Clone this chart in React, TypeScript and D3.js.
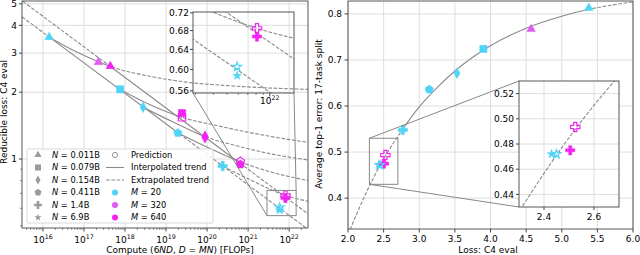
import React from 'react';
import * as d3 from 'd3';

// ---------- data ----------
const N_LABELS = ['0.011B', '0.079B', '0.154B', '0.411B', '1.4B', '6.9B'];
const N_SHAPES = ['triangle', 'square', 'diamond', 'pentagon', 'plus', 'star'];
const M_LABELS = ['20', '320', '640'];
const M_COLORS = ['#4fd3f6', '#dc5cef', '#f323f3'];

// left panel, measured runs: [N index, M index, compute (FLOPs), reducible loss]
const computeMeasured: number[][] = [
  [0, 0, 1.41e16, 3.54],
  [0, 1, 2.24e17, 2.73],
  [0, 2, 4.37e17, 2.62],
  [1, 0, 7.59e17, 2.06],
  [1, 2, 2.45e19, 1.61],
  [2, 0, 2.75e18, 1.71],
  [2, 2, 8.91e19, 1.265],
  [3, 0, 1.95e19, 1.31],
  [3, 2, 6.46e20, 0.945],
  [4, 0, 2.40e20, 0.93],
  [4, 2, 8.13e21, 0.667],
  [5, 0, 5.89e21, 0.588],
];
// left panel, predictions (hollow)
const computePredicted: number[][] = [
  [1, 2, 2.45e19, 1.54],
  [2, 2, 8.91e19, 1.255],
  [3, 2, 6.46e20, 0.975],
  [4, 2, 8.13e21, 0.685],
  [5, 0, 5.89e21, 0.605],
];

// left panel trends: points (compute, loss) and interpolated range
const trendM20 = [[3.09e15, 4.37], [2.88e22, 0.482]];
const trendM20Solid = [1.41e16, 1.95e19];
const trendM640 = [[3.24e15, 5.13], [2.88e22, 0.566]];
const trendM640Solid = [4.37e17, 6.46e20];
const trendN011 = [[1.41e16, 3.54], [5.62e16, 3.08], [2.24e17, 2.74], [4.37e17, 2.61], [3.98e18, 2.36],
  [3.16e19, 2.22], [3.16e20, 2.14], [3.16e21, 2.09], [2.88e22, 2.06]];
const trendN011Solid = [1.41e16, 4.37e17];
const trendN079 = [[7.59e17, 2.06], [3.98e18, 1.76], [2.45e19, 1.54], [1.58e20, 1.42], [1.0e21, 1.32],
  [5.01e21, 1.25], [2.88e22, 1.19]];
const trendN079Solid = [7.59e17, 2.45e19];
const trendN154 = [[2.75e18, 1.71], [1.58e19, 1.46], [8.91e19, 1.26], [5.01e20, 1.15], [3.16e21, 1.06],
  [2.88e22, 0.99]];
const trendN154Solid = [2.75e18, 8.91e19];
const trendN411 = [[1.95e19, 1.31], [1.12e20, 1.12], [6.46e20, 0.97], [3.98e21, 0.87], [2.88e22, 0.80]];
const trendN411Solid = [1.95e19, 6.46e20];
const trendN14 = [[2.40e20, 0.93], [1.41e21, 0.79], [8.13e21, 0.685], [2.88e22, 0.645]];

// right panel, measured: [N index, M index, C4 eval loss, avg top-1 error]
const lossMeasured: number[][] = [
  [0, 0, 5.38, 0.813],
  [0, 1, 4.57, 0.767],
  [1, 0, 3.9, 0.724],
  [2, 0, 3.53, 0.671],
  [3, 0, 3.14, 0.636],
  [4, 0, 2.77, 0.548],
  [5, 0, 2.43, 0.472],
  [4, 2, 2.505, 0.475],
];
const lossPredicted: number[][] = [
  [5, 0, 2.45, 0.472],
  [4, 2, 2.525, 0.4935],
];
// right panel fitted trend
const fitLoss = [2.0, 2.25, 2.5, 2.77, 3.0, 3.25, 3.5, 3.75, 4.0, 4.5, 5.0, 5.38, 5.7, 6.0];
const fitErr = [0.321, 0.41, 0.485, 0.55, 0.598, 0.64, 0.676, 0.706, 0.731, 0.769, 0.795, 0.81, 0.819, 0.826];
const fitSolid = [2.77, 5.38];

const L_YLABELS = [1, 2, 3, 4, 5];
const L_YMINOR = [0.5, 0.6, 0.7, 0.8, 0.9];
const L_XEXP = [16, 17, 18, 19, 20, 21, 22];
const LI_YTICKS = [0.56, 0.6, 0.64, 0.68, 0.72];
const R_XTICKS = [2, 2.5, 3, 3.5, 4, 4.5, 5, 5.5, 6];
const R_YTICKS = [0.4, 0.5, 0.6, 0.7, 0.8];
const RI_XTICKS = [2.4, 2.6];
const RI_YTICKS = [0.44, 0.46, 0.48, 0.5, 0.52];

// ---------- layout ----------
const FONT = 'DejaVu Sans, sans-serif';
const GRID = '#dedede';
const LINE = '#8a8a8a';
const SPINE = '#444';
const DASH = '3.7,1.6';

const LB = { x0: 22, x1: 308, y0: 1, y1: 228 };
const LI = { x0: 193, x1: 294, y0: 12, y1: 93 };
const RB = { x0: 348, x1: 633, y0: 1, y1: 229 };
const RI = { x0: 519, x1: 619, y0: 81, y1: 207 };

const xL = d3.scaleLog().domain([3.08e15, 2.88e22]).range([LB.x0, LB.x1]);
const yL = d3.scaleLog().domain([0.489, 5.15]).range([LB.y1, LB.y0]);
const xLI = d3.scaleLog().domain([2.88e21, 1.48e22]).range([LI.x0, LI.x1]);
const yLI = d3.scaleLog().domain([0.556, 0.722]).range([LI.y1, LI.y0]);
const xR = d3.scaleLinear().domain([2, 6]).range([RB.x0, RB.x1]);
const yR = d3.scaleLinear().domain([0.333, 0.828]).range([RB.y1, RB.y0]);
const xRI = d3.scaleLinear().domain([2.3, 2.7]).range([RI.x0, RI.x1]);
const yRI = d3.scaleLinear().domain([0.43, 0.53]).range([RI.y1, RI.y0]);

const pentagon = {
  draw(ctx: any, size: number) {
    const r = Math.sqrt(size / 2.378);
    for (let k = 0; k < 5; k++) {
      const a = -Math.PI / 2 + (k * 2 * Math.PI) / 5;
      if (k === 0) ctx.moveTo(r * Math.cos(a), r * Math.sin(a));
      else ctx.lineTo(r * Math.cos(a), r * Math.sin(a));
    }
    ctx.closePath();
  }
};

const SHAPE: Record<string, [any, number]> = {
  triangle: [d3.symbolTriangle, 32],
  square: [d3.symbolSquare, 52],
  diamond: [d3.symbolDiamond, 32],
  pentagon: [pentagon, 46],
  plus: [d3.symbolCross, 48],
  star: [d3.symbolStar, 24],
};

const symbolPath = (shape: string, scale = 1) => {
  const [type, size] = SHAPE[shape];
  return d3.symbol().type(type).size(size * scale)() as string;
};

const Marker = ({ x, y, shape, color, hollow = false, scale = 1 }: any) => (
  <path
    d={symbolPath(shape, scale)}
    transform={`translate(${x},${y})`}
    fill={hollow ? 'none' : color}
    stroke={color}
    strokeWidth={hollow ? 1.2 : 0.5}
  />
);

type Box = { x0: number; x1: number; y0: number; y1: number };

const Trend = ({ pts, solid, xs, ys, box, id }: any) => {
  const line = d3.line<number[]>().x(d => xs(d[0])).y(d => ys(d[1])).curve(d3.curveMonotoneX);
  const d = line(pts) as string;
  const h = box.y1 - box.y0;
  if (!solid) {
    return (
      <g>
        <clipPath id={id + 'd'}><rect x={box.x0} y={box.y0} width={box.x1 - box.x0} height={h} /></clipPath>
        <path d={d} fill="none" stroke={LINE} strokeWidth={1.1} strokeDasharray={DASH} clipPath={`url(#${id}d)`} />
      </g>
    );
  }
  const s0 = Math.min(box.x1, Math.max(box.x0, xs(solid[0])));
  const s1 = Math.min(box.x1, Math.max(box.x0, xs(solid[1])));
  return (
    <g>
      <clipPath id={id + 's'}><rect x={s0} y={box.y0} width={Math.max(0, s1 - s0)} height={h} /></clipPath>
      <clipPath id={id + 'd'}>
        <rect x={box.x0} y={box.y0} width={Math.max(0, s0 - box.x0)} height={h} />
        <rect x={s1} y={box.y0} width={Math.max(0, box.x1 - s1)} height={h} />
      </clipPath>
      <path d={d} fill="none" stroke={LINE} strokeWidth={1.1} clipPath={`url(#${id}s)`} />
      <path d={d} fill="none" stroke={LINE} strokeWidth={1.1} strokeDasharray={DASH} clipPath={`url(#${id}d)`} />
    </g>
  );
};

const computeTrends = [
  { pts: trendM20, solid: trendM20Solid },
  { pts: trendM640, solid: trendM640Solid },
  { pts: trendN011, solid: trendN011Solid },
  { pts: trendN079, solid: trendN079Solid },
  { pts: trendN154, solid: trendN154Solid },
  { pts: trendN411, solid: trendN411Solid },
  { pts: trendN14, solid: null },
];

const fitPts = fitLoss.map((v, i) => [v, fitErr[i]]);

const inBox = (b: Box, x: number, y: number) => x >= b.x0 - 1 && x <= b.x1 + 1 && y >= b.y0 - 1 && y <= b.y1 + 1;

const Sup = ({ x, y, exp, size = 9 }: any) => (
  <text x={x} y={y} textAnchor="middle" fontSize={size}>
    10<tspan dy={-4} fontSize={size * 0.7}>{exp}</tspan>
  </text>
);

const LegendRows = [155, 167.5, 180, 192.5, 205, 217.5];

const App: React.FC = () => {
  const xMinor: number[] = [];
  for (let e = 15; e <= 22; e++) for (let k = 2; k <= 9; k++) {
    const v = k * 10 ** e;
    if (v > 3.08e15 && v < 2.88e22) xMinor.push(v);
  }
  const xiMinor: number[] = [];
  for (let k = 3; k <= 9; k++) xiMinor.push(k * 1e21);

  return (
    <svg width={640} height={255} style={{ position: 'absolute', left: 0, top: 0, fontFamily: FONT }}>
      <rect width={640} height={255} fill="#fff" />

      {/* ================= left panel ================= */}
      <g>
        {L_XEXP.map(e => (
          <line key={'gx' + e} x1={xL(10 ** e)} x2={xL(10 ** e)} y1={LB.y0} y2={LB.y1} stroke={GRID} strokeWidth={1} />
        ))}
        {L_YLABELS.map(v => (
          <line key={'gy' + v} x1={LB.x0} x2={LB.x1} y1={yL(v)} y2={yL(v)} stroke={GRID} strokeWidth={1} />
        ))}

        {computeTrends.map((t, i) => (
          <Trend key={'lt' + i} pts={t.pts} solid={t.solid} xs={xL} ys={yL} box={LB} id={'lt' + i} />
        ))}

        {computeMeasured.map((p, i) => (
          <Marker key={'lm' + i} x={xL(p[2])} y={yL(p[3])} shape={N_SHAPES[p[0]]} color={M_COLORS[p[1]]} />
        ))}
        {computePredicted.map((p, i) => (
          <Marker key={'lp' + i} x={xL(p[2])} y={yL(p[3])} shape={N_SHAPES[p[0]]} color={M_COLORS[p[1]]} hollow />
        ))}

        {/* legend */}
        <rect x={27} y={149} width={186} height={74} rx={2} fill="#fff" fillOpacity={0.85} stroke="#cfcfcf" strokeWidth={0.8} />
        {N_LABELS.map((lab, i) => (
          <g key={'lgn' + i}>
            <path d={symbolPath(N_SHAPES[i], 0.7)} transform={`translate(38,${LegendRows[i]})`} fill="#9a9a9a" />
            <text x={52} y={LegendRows[i]} dy="0.35em" fontSize={8.3}>
              <tspan fontStyle="italic">N</tspan> = {lab}
            </text>
          </g>
        ))}
        <circle cx={115} cy={LegendRows[0]} r={2.6} fill="none" stroke="#8a8a8a" strokeWidth={0.9} />
        <text x={131} y={LegendRows[0]} dy="0.35em" fontSize={8.3}>Prediction</text>
        <line x1={106} x2={124} y1={LegendRows[1]} y2={LegendRows[1]} stroke={LINE} strokeWidth={1.1} />
        <text x={131} y={LegendRows[1]} dy="0.35em" fontSize={8.3}>Interpolated trend</text>
        <line x1={106} x2={124} y1={LegendRows[2]} y2={LegendRows[2]} stroke={LINE} strokeWidth={1.1} strokeDasharray={DASH} />
        <text x={131} y={LegendRows[2]} dy="0.35em" fontSize={8.3}>Extrapolated trend</text>
        {M_LABELS.map((m, i) => (
          <g key={'lgm' + i}>
            <circle cx={115} cy={LegendRows[3 + i]} r={3} fill={M_COLORS[i]} />
            <text x={131} y={LegendRows[3 + i]} dy="0.35em" fontSize={8.3}>
              <tspan fontStyle="italic">M</tspan> = {m}
            </text>
          </g>
        ))}

        {/* frame + ticks */}
        <rect x={LB.x0} y={LB.y0} width={LB.x1 - LB.x0} height={LB.y1 - LB.y0} fill="none" stroke={SPINE} strokeWidth={0.9} />
        {L_XEXP.map(e => (
          <g key={'tx' + e}>
            <line x1={xL(10 ** e)} x2={xL(10 ** e)} y1={LB.y1} y2={LB.y1 + 3.5} stroke={SPINE} />
            <Sup x={xL(10 ** e)} y={243} exp={e} />
          </g>
        ))}
        {xMinor.map((v, i) => (
          <line key={'txm' + i} x1={xL(v)} x2={xL(v)} y1={LB.y1} y2={LB.y1 + 2} stroke={SPINE} strokeWidth={0.6} />
        ))}
        {L_YLABELS.map(v => (
          <g key={'ty' + v}>
            <line x1={LB.x0 - 3} x2={LB.x0} y1={yL(v)} y2={yL(v)} stroke={SPINE} />
            <text x={LB.x0 - 5} y={yL(v)} dy="0.35em" textAnchor="end" fontSize={9}>{v}</text>
          </g>
        ))}
        {L_YMINOR.map(v => (
          <line key={'tym' + v} x1={LB.x0 - 2} x2={LB.x0} y1={yL(v)} y2={yL(v)} stroke={SPINE} strokeWidth={0.6} />
        ))}
        <text x={180} y={253} textAnchor="middle" fontSize={9}>
          Compute (6<tspan fontStyle="italic">ND</tspan>, <tspan fontStyle="italic">D</tspan> = <tspan fontStyle="italic">MN</tspan>) [FLOPs]
        </text>
        <text transform={`translate(7,112) rotate(-90)`} textAnchor="middle" fontSize={9}>Reducible loss: C4 eval</text>

        {/* zoom indicator */}
        <rect x={xL(2.88e21)} y={yL(0.722)} width={xL(1.48e22) - xL(2.88e21)} height={yL(0.556) - yL(0.722)}
          fill="none" stroke="#888" strokeWidth={1} />
        <line x1={LI.x0} y1={LI.y1} x2={xL(2.88e21)} y2={yL(0.556)} stroke="#888" strokeWidth={1} />
        <line x1={LI.x1} y1={LI.y1} x2={xL(1.48e22)} y2={yL(0.722)} stroke="#888" strokeWidth={1} />

        {/* inset (transparent) */}
        {computeTrends.map((t, i) => (
          <Trend key={'it' + i} pts={t.pts} solid={t.solid} xs={xLI} ys={yLI} box={LI} id={'it' + i} />
        ))}
        {computeMeasured.filter(p => inBox(LI, xLI(p[2]), yLI(p[3]))).map((p, i) => (
          <Marker key={'im' + i} x={xLI(p[2])} y={yLI(p[3])} shape={N_SHAPES[p[0]]} color={M_COLORS[p[1]]} />
        ))}
        {computePredicted.filter(p => inBox(LI, xLI(p[2]), yLI(p[3]))).map((p, i) => (
          <Marker key={'ip' + i} x={xLI(p[2])} y={yLI(p[3])} shape={N_SHAPES[p[0]]} color={M_COLORS[p[1]]} hollow />
        ))}
        <rect x={LI.x0} y={LI.y0} width={LI.x1 - LI.x0} height={LI.y1 - LI.y0} fill="none" stroke={SPINE} strokeWidth={0.9} />
        {LI_YTICKS.map(v => (
          <g key={'ity' + v}>
            <line x1={LI.x0 - 3} x2={LI.x0} y1={yLI(v)} y2={yLI(v)} stroke={SPINE} />
            <text x={LI.x0 - 4} y={yLI(v)} dy="0.35em" textAnchor="end" fontSize={9}>{v.toFixed(2)}</text>
          </g>
        ))}
        <line x1={xLI(1e22)} x2={xLI(1e22)} y1={LI.y1} y2={LI.y1 + 3.5} stroke={SPINE} />
        {xiMinor.map(v => (
          <line key={'itm' + v} x1={xLI(v)} x2={xLI(v)} y1={LI.y1} y2={LI.y1 + 2} stroke={SPINE} strokeWidth={0.6} />
        ))}
        <Sup x={xLI(1e22)} y={104} exp={22} />
      </g>

      {/* ================= right panel ================= */}
      <g>
        {R_XTICKS.map(v => (
          <line key={'rgx' + v} x1={xR(v)} x2={xR(v)} y1={RB.y0} y2={RB.y1} stroke={GRID} strokeWidth={1} />
        ))}
        {R_YTICKS.map(v => (
          <line key={'rgy' + v} x1={RB.x0} x2={RB.x1} y1={yR(v)} y2={yR(v)} stroke={GRID} strokeWidth={1} />
        ))}
        <Trend pts={fitPts} solid={fitSolid} xs={xR} ys={yR} box={RB} id="rfit" />
        {lossMeasured.map((p, i) => (
          <Marker key={'rm' + i} x={xR(p[2])} y={yR(p[3])} shape={N_SHAPES[p[0]]} color={M_COLORS[p[1]]} />
        ))}
        {lossPredicted.map((p, i) => (
          <Marker key={'rp' + i} x={xR(p[2])} y={yR(p[3])} shape={N_SHAPES[p[0]]} color={M_COLORS[p[1]]} hollow />
        ))}

        <rect x={RB.x0} y={RB.y0} width={RB.x1 - RB.x0} height={RB.y1 - RB.y0} fill="none" stroke={SPINE} strokeWidth={0.9} />
        {R_XTICKS.map(v => (
          <g key={'rtx' + v}>
            <line x1={xR(v)} x2={xR(v)} y1={RB.y1} y2={RB.y1 + 3.5} stroke={SPINE} />
            <text x={xR(v)} y={242} textAnchor="middle" fontSize={9}>{v.toFixed(1)}</text>
          </g>
        ))}
        {R_YTICKS.map(v => (
          <g key={'rty' + v}>
            <line x1={RB.x0 - 3.5} x2={RB.x0} y1={yR(v)} y2={yR(v)} stroke={SPINE} />
            <text x={RB.x0 - 6} y={yR(v)} dy="0.35em" textAnchor="end" fontSize={9}>{v.toFixed(1)}</text>
          </g>
        ))}
        <text x={488} y={253} textAnchor="middle" fontSize={9}>Loss: C4 eval</text>
        <text transform={`translate(322,114) rotate(-90)`} textAnchor="middle" fontSize={9}>Average top-1 error: 17-task split</text>

        {/* zoom indicator */}
        <rect x={xR(2.3)} y={yR(0.53)} width={xR(2.7) - xR(2.3)} height={yR(0.43) - yR(0.53)} fill="none" stroke="#888" strokeWidth={1} />
        <line x1={xR(2.3)} y1={yR(0.53)} x2={RI.x0} y2={RI.y0} stroke="#888" strokeWidth={1} />
        <line x1={xR(2.3)} y1={yR(0.43)} x2={RI.x0} y2={RI.y1} stroke="#888" strokeWidth={1} />

        {/* inset */}
        <rect x={RI.x0} y={RI.y0} width={RI.x1 - RI.x0} height={RI.y1 - RI.y0} fill="#fff" />
        {RI_XTICKS.map(v => (
          <line key={'rigx' + v} x1={xRI(v)} x2={xRI(v)} y1={RI.y0} y2={RI.y1} stroke={GRID} strokeWidth={1} />
        ))}
        {RI_YTICKS.map(v => (
          <line key={'rigy' + v} x1={RI.x0} x2={RI.x1} y1={yRI(v)} y2={yRI(v)} stroke={GRID} strokeWidth={1} />
        ))}
        <Trend pts={fitPts} solid={fitSolid} xs={xRI} ys={yRI} box={RI} id="rifit" />
        {lossMeasured.filter(p => inBox(RI, xRI(p[2]), yRI(p[3]))).map((p, i) => (
          <Marker key={'rim' + i} x={xRI(p[2])} y={yRI(p[3])} shape={N_SHAPES[p[0]]} color={M_COLORS[p[1]]} />
        ))}
        {lossPredicted.filter(p => inBox(RI, xRI(p[2]), yRI(p[3]))).map((p, i) => (
          <Marker key={'rip' + i} x={xRI(p[2])} y={yRI(p[3])} shape={N_SHAPES[p[0]]} color={M_COLORS[p[1]]} hollow />
        ))}
        <rect x={RI.x0} y={RI.y0} width={RI.x1 - RI.x0} height={RI.y1 - RI.y0} fill="none" stroke={SPINE} strokeWidth={0.9} />
        {RI_XTICKS.map(v => (
          <g key={'ritx' + v}>
            <line x1={xRI(v)} x2={xRI(v)} y1={RI.y1} y2={RI.y1 + 3} stroke={SPINE} />
            <text x={xRI(v)} y={220} textAnchor="middle" fontSize={9}>{v.toFixed(1)}</text>
          </g>
        ))}
        {RI_YTICKS.map(v => (
          <g key={'rity' + v}>
            <line x1={RI.x0 - 3} x2={RI.x0} y1={yRI(v)} y2={yRI(v)} stroke={SPINE} />
            <text x={RI.x0 - 5} y={yRI(v)} dy="0.35em" textAnchor="end" fontSize={9}>{v.toFixed(2)}</text>
          </g>
        ))}
      </g>
    </svg>
  );
};

export default App;
